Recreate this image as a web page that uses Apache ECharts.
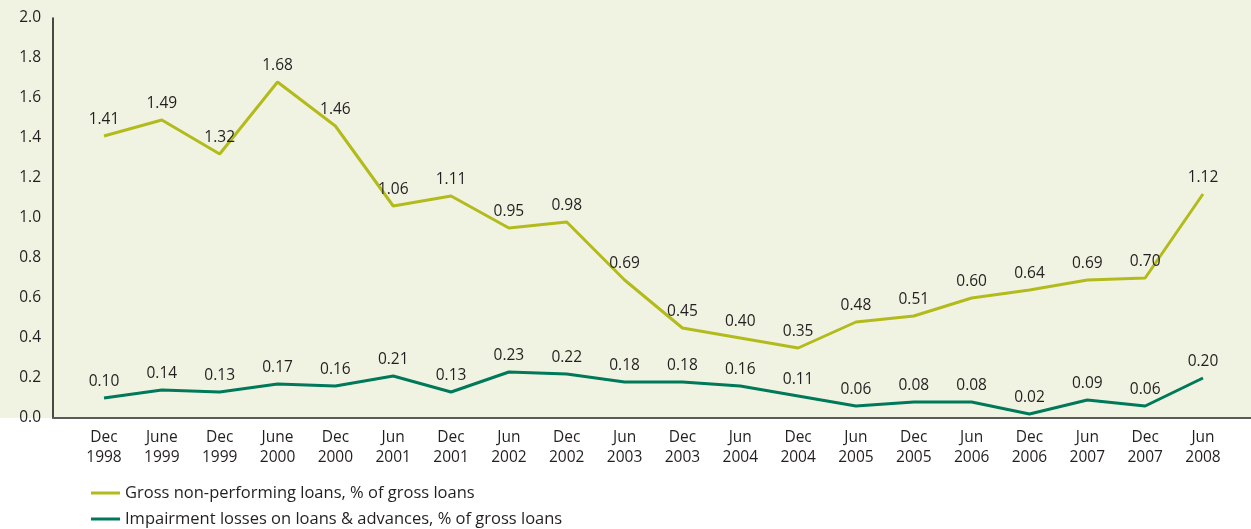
<!DOCTYPE html>
<html><head><meta charset="utf-8">
<script src="https://cdn.jsdelivr.net/npm/echarts@6/dist/echarts.min.js"></script>
<style>html,body{margin:0;padding:0;background:#fff}#c{width:1251px;height:529px}</style>
</head><body><div id="c"></div>
<script>
const categories = ['Dec\n1998','June\n1999','Dec\n1999','June\n2000','Dec\n2000','Jun\n2001','Dec\n2001','Jun\n2002','Dec\n2002','Jun\n2003','Dec\n2003','Jun\n2004','Dec\n2004','Jun\n2005','Dec\n2005','Jun\n2006','Dec\n2006','Jun\n2007','Dec\n2007','Jun\n2008'];
const grossNPL = [1.41,1.49,1.32,1.68,1.46,1.06,1.11,0.95,0.98,0.69,0.45,0.40,0.35,0.48,0.51,0.60,0.64,0.69,0.70,1.12];
const impairment = [0.10,0.14,0.13,0.17,0.16,0.21,0.13,0.23,0.22,0.18,0.18,0.16,0.11,0.06,0.08,0.08,0.02,0.09,0.06,0.20];
const seriesNames = ['Gross non-performing loans, % of gross loans','Impairment losses on loans & advances, % of gross loans'];

const FONT = '"Open Sans", sans-serif';
const TXT = '#231f20';
const chart = echarts.init(document.getElementById('c'), null, {renderer:'canvas'});
const lbl = {show:true, position:'top', distance:8, color:TXT, fontFamily:FONT, fontSize:15.5, formatter:p=>p.value.toFixed(2)};
chart.setOption({
  animation:false,
  graphic:[{type:'rect', shape:{x:0,y:0,width:1251,height:418}, style:{fill:'#f0f3e1'}, z:-10, silent:true}],
  grid:[
    {left:53, right:0, top:18, bottom:111},
    {left:104, right:48, top:18, bottom:111}
  ],
  legend:{
    orient:'vertical', left:86, top:478, height:100, itemGap:6, itemWidth:29, itemHeight:3, icon:'rect',
    textStyle:{color:TXT, fontFamily:FONT, fontSize:16.5, lineHeight:20},
    data:seriesNames
  },
  xAxis:[
    {type:'value', gridIndex:0, min:0, max:1, axisLine:{show:true, lineStyle:{color:'#5a5a5a', width:2}}, axisTick:{show:false}, axisLabel:{show:false}, splitLine:{show:false}},
    {type:'category', gridIndex:1, data:categories, boundaryGap:false, axisLine:{show:false}, axisTick:{show:false}, splitLine:{show:false},
     axisLabel:{interval:0, margin:10, color:TXT, fontFamily:FONT, fontSize:15.5, lineHeight:20}}
  ],
  yAxis:[
    {type:'value', gridIndex:0, min:0, max:2, interval:0.2, axisLine:{show:true, lineStyle:{color:'#111', width:1.5}}, axisTick:{show:false}, splitLine:{show:false},
     axisLabel:{margin:12, color:TXT, fontFamily:FONT, fontSize:15.5, formatter:v=>v.toFixed(1), padding:[0,0,6,0]}},
    {type:'value', gridIndex:1, min:0, max:2, show:false}
  ],
  series:[
    {name:seriesNames[0], type:'line', xAxisIndex:1, yAxisIndex:1, data:grossNPL, symbol:'circle', symbolSize:0, showSymbol:true, lineStyle:{color:'#b3bb1c', width:3}, itemStyle:{color:'#b3bb1c'}, label:lbl},
    {name:seriesNames[1], type:'line', xAxisIndex:1, yAxisIndex:1, data:impairment, symbol:'circle', symbolSize:0, showSymbol:true, lineStyle:{color:'#00785a', width:3}, itemStyle:{color:'#00785a'}, label:lbl}
  ]
});
</script></body></html>
